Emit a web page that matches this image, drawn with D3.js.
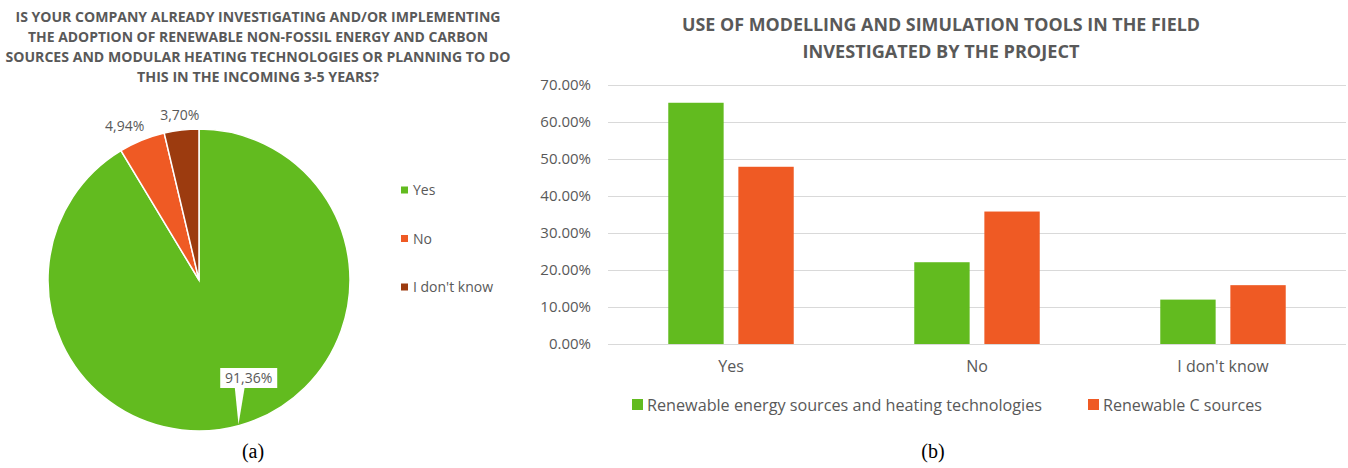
<!DOCTYPE html>
<html>
<head>
<meta charset="utf-8">
<script src="https://cdn.jsdelivr.net/npm/d3@7"></script>
<style>
  body { margin: 0; background: #fff; }
  svg text { font-family: "Open Sans", sans-serif; fill: #595959; }
</style>
</head>
<body>
<svg class="main" width="1348" height="468"></svg>
<script>
// pie (a)
var pieLabels = ["Yes", "No", "I don't know"];
var pieValues = [91.36, 4.94, 3.70];
var pieText = ["91,36%", "4,94%", "3,70%"];
var pieColors = ["#62bb1f", "#ef5a24", "#9c3b0f"];
var pieTitle = ["IS YOUR COMPANY ALREADY INVESTIGATING AND/OR IMPLEMENTING",
    "THE ADOPTION OF RENEWABLE NON-FOSSIL ENERGY AND CARBON",
    "SOURCES AND MODULAR HEATING TECHNOLOGIES OR PLANNING TO DO",
    "THIS IN THE INCOMING 3-5 YEARS?"];

// bars (b)
var categories = ["Yes", "No", "I don't know"];
var seriesNames = ["Renewable energy sources and heating technologies", "Renewable C sources"];
var renewableEnergy = [65.2, 22.1, 12.0];
var renewableC = [47.9, 35.8, 15.9];
var barColors = ["#62bb1f", "#ef5a24"];
var yTicks = [0, 10, 20, 30, 40, 50, 60, 70];
var barTitle = ["USE OF MODELLING AND SIMULATION TOOLS IN THE FIELD", "INVESTIGATED BY THE PROJECT"];

var svg = d3.select("svg.main");

function drawPie() {
    var cx = 199, cy = 280, r = 151;
    var g = svg.append("g").attr("transform", "translate(" + cx + "," + cy + ")");

    var titleWidths = [485, 460, 505, 242];
    svg.selectAll("text.ptitle").data(pieTitle).enter().append("text")
        .attr("class", "ptitle")
        .attr("x", 258)
        .attr("y", function (d, i) { return 22 + i * 20; })
        .attr("text-anchor", "middle")
        .attr("textLength", function (d, i) { return titleWidths[i]; })
        .attr("lengthAdjust", "spacingAndGlyphs")
        .style("font-size", "13.5px")
        .style("font-weight", "bold")
        .text(function (d) { return d; });

    var pie = d3.pie().sort(null).value(function (d) { return d; });
    var arcs = pie(pieValues);
    var arc = d3.arc().innerRadius(0).outerRadius(r);

    g.selectAll("path").data(arcs).enter().append("path")
        .attr("d", arc)
        .attr("fill", function (d, i) { return pieColors[i]; })
        .attr("stroke", "#fff")
        .attr("stroke-width", 1.5);

    // callout for the big slice
    var a = (arcs[0].startAngle + arcs[0].endAngle) / 2;
    var tipX = Math.sin(a) * r, tipY = -Math.cos(a) * r;
    var bx = Math.sin(a) * r * 0.66 + 23, by = -Math.cos(a) * r * 0.66 + 2;
    var bw = 57, bh = 20;
    g.append("path")
        .attr("d", "M" + (bx - 14) + "," + (by + bh / 2 - 1) + "L" + (tipX - 1) + "," + (tipY - 1) +
            "L" + (bx - 4) + "," + (by + bh / 2 - 1) + "Z")
        .attr("fill", "#fff");
    g.append("rect")
        .attr("x", bx - bw / 2).attr("y", by - bh / 2)
        .attr("width", bw).attr("height", bh)
        .attr("fill", "#fff");
    g.append("text")
        .attr("x", bx).attr("y", by + 5)
        .attr("text-anchor", "middle")
        .style("font-size", "14px")
        .text(pieText[0]);

    // outside labels for the small slices
    var outR = [166, 166];
    var anchors = ["end", "middle"];
    var dxs = [8, 0];
    for (var i = 1; i < arcs.length; i++) {
        var m = (arcs[i].startAngle + arcs[i].endAngle) / 2;
        g.append("text")
            .attr("x", Math.sin(m) * outR[i - 1] + dxs[i - 1])
            .attr("y", -Math.cos(m) * outR[i - 1] + 5)
            .attr("text-anchor", anchors[i - 1])
            .style("font-size", "14px")
            .text(pieText[i]);
    }

    // legend
    var lg = svg.append("g").attr("transform", "translate(401,190)");
    var items = lg.selectAll("g").data(pieLabels).enter().append("g")
        .attr("transform", function (d, i) { return "translate(0," + i * 48.5 + ")"; });
    items.append("rect")
        .attr("x", 0).attr("y", -3.5).attr("width", 7).attr("height", 7)
        .attr("fill", function (d, i) { return pieColors[i]; });
    items.append("text")
        .attr("x", 12).attr("y", 5)
        .style("font-size", "14px")
        .text(function (d) { return d; });

    svg.append("text")
        .attr("x", 253).attr("y", 458)
        .attr("text-anchor", "middle")
        .style("font-family", "'Liberation Serif', serif")
        .style("font-size", "20px")
        .style("fill", "#000")
        .text("(a)");
}

function drawBars() {
    var x0 = 608, x1 = 1346, yTop = 85, yBot = 344;

    svg.selectAll("text.btitle").data(barTitle).enter().append("text")
        .attr("class", "btitle")
        .attr("x", 941)
        .attr("y", function (d, i) { return 31 + i * 27; })
        .attr("text-anchor", "middle")
        .attr("textLength", function (d, i) { return i == 0 ? 518 : 277; })
        .attr("lengthAdjust", "spacingAndGlyphs")
        .style("font-size", "17.5px")
        .style("font-weight", "bold")
        .text(function (d) { return d; });

    var y = d3.scaleLinear().domain([0, 70]).range([yBot, yTop]);
    var x = d3.scaleBand().domain(categories).range([x0, x1])
        .paddingInner(0.49).paddingOuter(0.245);
    var xs = d3.scaleBand().domain([0, 1]).range([0, x.bandwidth()]).paddingInner(0.21);

    var yAxis = d3.axisLeft(y).tickValues(yTicks)
        .tickSize(-(x1 - x0)).tickPadding(17)
        .tickFormat(function (d) { return d.toFixed(2) + "%"; });
    var ga = svg.append("g").attr("transform", "translate(" + x0 + ",0)").call(yAxis);
    ga.select(".domain").remove();
    ga.selectAll(".tick line").attr("stroke", "#d9d9d9").attr("stroke-width", 1);
    ga.selectAll(".tick text")
        .style("font-family", "'Open Sans', sans-serif")
        .style("font-size", "15px")
        .style("fill", "#595959");

    var series = [renewableEnergy, renewableC];
    series.forEach(function (vals, s) {
        svg.append("g").selectAll("rect").data(vals).enter().append("rect")
            .attr("x", function (d, i) { return x(categories[i]) + xs(s); })
            .attr("y", function (d) { return y(d); })
            .attr("width", xs.bandwidth())
            .attr("height", function (d) { return y(0) - y(d); })
            .attr("fill", barColors[s]);
    });

    var xAxis = d3.axisBottom(x).tickSize(0).tickPadding(17);
    var gx = svg.append("g").attr("transform", "translate(0," + yBot + ")").call(xAxis);
    gx.select(".domain").remove();
    gx.selectAll(".tick text")
        .style("font-family", "'Open Sans', sans-serif")
        .style("font-size", "16px")
        .style("fill", "#595959");

    // legend
    var legX = [632, 1088];
    var legW = [395, 159];
    seriesNames.forEach(function (name, s) {
        svg.append("rect")
            .attr("x", legX[s]).attr("y", 399).attr("width", 11).attr("height", 11)
            .attr("fill", barColors[s]);
        svg.append("text")
            .attr("x", legX[s] + 15).attr("y", 411)
            .attr("textLength", legW[s])
            .attr("lengthAdjust", "spacingAndGlyphs")
            .style("font-size", "16px")
            .text(name);
    });

    svg.append("text")
        .attr("x", 933).attr("y", 458)
        .attr("text-anchor", "middle")
        .style("font-family", "'Liberation Serif', serif")
        .style("font-size", "20px")
        .style("fill", "#000")
        .text("(b)");
}

drawPie();
drawBars();
</script>
</body>
</html>
